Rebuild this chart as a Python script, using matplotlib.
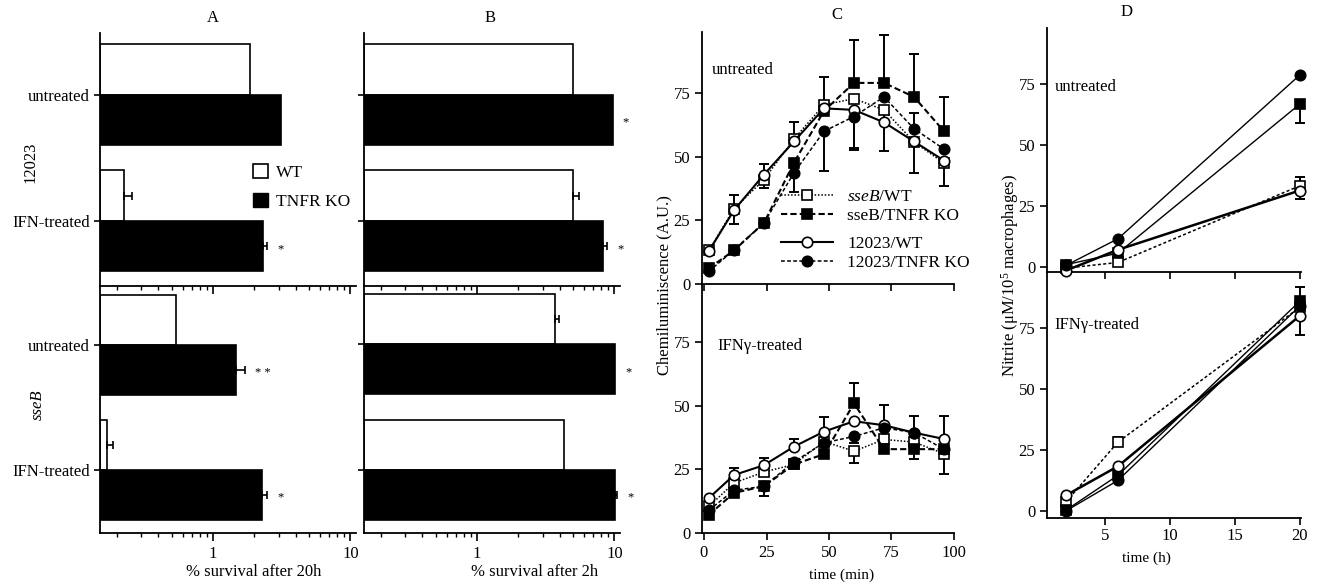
import numpy as np
import matplotlib
matplotlib.use("Agg")
import matplotlib.pyplot as plt
from matplotlib.patches import Patch
from matplotlib.lines import Line2D
from matplotlib.ticker import NullFormatter

plt.rcParams['font.family'] = ['Liberation Serif', 'DejaVu Serif']
plt.rcParams['mathtext.fontset'] = 'custom'
plt.rcParams['mathtext.rm'] = 'Liberation Serif'
plt.rcParams['mathtext.it'] = 'Liberation Serif:italic'
plt.rcParams['font.size'] = 12
plt.rcParams['axes.linewidth'] = 1.3

nan = np.nan

# ---- A / B: % survival, rows = untreated, IFN-treated ----
conditions = ["untreated", "IFN-treated"]

a_12023_wt = [1.86, 0.224]
a_12023_ko = [3.1, 2.3]
a_12023_wt_err = [nan, 0.256]
a_12023_ko_err = [nan, 2.48]
a_12023_stars = ["", "*"]
a_sseb_wt = [0.54, 0.17]
a_sseb_ko = [1.47, 2.28]
a_sseb_wt_err = [nan, 0.187]
a_sseb_ko_err = [1.71, 2.48]
a_sseb_stars = ["* *", "*"]

b_12023_wt = [5.0, 5.0]
b_12023_ko = [9.8, 8.3]
b_12023_wt_err = [nan, 5.55]
b_12023_ko_err = [nan, 8.9]
b_12023_stars = ["*", "*"]
b_sseb_wt = [3.7, 4.3]
b_sseb_ko = [10.2, 10.2]
b_sseb_wt_err = [3.97, nan]
b_sseb_ko_err = [nan, 10.5]
b_sseb_stars = ["*", "*"]

# ---- C: chemiluminescence (A.U.) ----
c_time = [2, 12, 24, 36, 48, 60, 72, 84, 96]
c_unt_sseb_wt = [13.2, 29.6, 41, 57, 70.4, 72.8, 68.4, 55.8, 47.5]
c_unt_sseb_ko = [6.2, 13.2, 24, 47.7, 68, 79, 79, 73.5, 60]
c_unt_wt = [13, 29, 43, 56, 69, 68.4, 63.5, 56, 48.5]
c_unt_ko = [5, 13.4, 24, 43.7, 60, 65.8, 73.5, 61, 53]
c_unt_sseb_wt_up = [0, 5.4, 6, 6.8, 11, 0, 0, 0, 0]
c_unt_sseb_wt_dn = [0, 0, 3.4, 0, 0, 0, 16, 12, 9]
c_unt_sseb_ko_up = [0, 0, 0, 0, 0, 16.8, 19, 17, 13.6]
c_unt_sseb_ko_dn = [0, 0, 0, 11.7, 0, 0, 0, 0, 0]
c_unt_wt_up = [0, 0, 0, 0, 0, 0, 0, 0, 0]
c_unt_wt_dn = [0, 5.5, 0, 0, 0, 15, 0, 0, 0]
c_unt_ko_up = [0, 0, 0, 0, 0, 0, 0, 6, 0]
c_unt_ko_dn = [0, 0, 0, 0, 15.5, 13.3, 0, 0, 0]

c_ifn_sseb_wt = [10.5, 19.7, 24, 27, 36, 32.2, 36.8, 35.8, 31.2]
c_ifn_sseb_ko = [7.2, 15.8, 18.4, 27, 31, 51, 33, 33, 33]
c_ifn_wt = [13.8, 22.8, 26.7, 34, 39.9, 44, 42.4, 39.5, 37]
c_ifn_ko = [9, 16.8, 18.4, 28, 35.5, 38, 41.4, 39.5, 33]
c_ifn_sseb_wt_up = [0, 0, 0, 0, 0, 0, 0, 0, 0]
c_ifn_sseb_wt_dn = [0, 0, 0, 0, 0, 4.6, 0, 0, 8]
c_ifn_sseb_ko_up = [0, 0, 0, 0, 0, 8, 0, 0, 0]
c_ifn_sseb_ko_dn = [0, 0, 0, 0, 0, 0, 1.7, 3.8, 0]
c_ifn_wt_up = [0, 2.9, 2.9, 2.8, 5.9, 0, 8, 6.5, 9]
c_ifn_wt_dn = [0, 0, 0, 0, 0, 0, 0, 0, 0]
c_ifn_ko_up = [0, 0, 0, 0, 0, 0, 0, 0, 0]
c_ifn_ko_dn = [0, 0, 3.7, 0, 0, 2.7, 0, 0, 0]

# ---- D: nitrite (uM / 1e5 macrophages) ----
d_time = [2, 6, 20]
d_unt_sseb_wt = [-0.4, 1.9, 33.3]
d_unt_sseb_ko = [1, 5.7, 66.8]
d_unt_wt = [-1.4, 7.1, 31.4]
d_unt_ko = [0.7, 11.6, 78.7]
d_unt_sseb_wt_up = [0, 0, 3.7]
d_unt_sseb_ko_dn = [0, 0, 7.8]
d_unt_wt_dn = [0, 0, 3.4]

d_ifn_sseb_wt = [3.7, 28.2, 83.5]
d_ifn_sseb_ko = [0.3, 14.6, 86]
d_ifn_wt = [6.4, 18.3, 80]
d_ifn_ko = [0, 12.5, 84]
d_ifn_sseb_wt_up = [0, 2.1, 0]
d_ifn_sseb_ko_up = [0, 0, 5.7]
d_ifn_wt_dn = [0, 0, 7.7]

XMIN, XMAX = 0.15, 11
W, H = 1322, 585
fig = plt.figure(figsize=(W / 100, H / 100), dpi=100)


def fax(left, top, right, bottom):
    return fig.add_axes([left / W, 1 - bottom / H, (right - left) / W, (bottom - top) / H])


def draw_bars(ax, wt, ko, wt_err, ko_err, stars, ylim, show_labels, show_xlabels):
    pos = np.arange(len(conditions))
    h = 0.4
    wt = np.asarray(wt)
    ko = np.asarray(ko)
    ax.barh(pos - h / 2, wt - XMIN, height=h, left=XMIN, color='white',
            edgecolor='black', linewidth=1.2)
    ax.barh(pos + h / 2, ko - XMIN, height=h, left=XMIN, color='black',
            edgecolor='black', linewidth=1.2)
    for vals, errs, ys in ((wt, wt_err, pos - h / 2), (ko, ko_err, pos + h / 2)):
        errs = np.asarray(errs)
        m = ~np.isnan(errs)
        if m.any():
            ax.errorbar(vals[m], ys[m], xerr=[np.zeros(m.sum()), errs[m] - vals[m]],
                        fmt='none', ecolor='black', elinewidth=1.2, capsize=3, capthick=1.2)
    for i, s in enumerate(stars):
        if s:
            e = ko_err[i]
            x = ko[i] if np.isnan(e) else max(ko[i], e)
            ax.annotate(s, xy=(x, pos[i] + h / 2), xytext=(7, -2), textcoords='offset points',
                        va='center', ha='left', fontsize=9)
    ax.set_xscale('log')
    ax.set_xlim(XMIN, XMAX)
    ax.set_ylim(*ylim)
    ax.set_yticks(pos)
    if show_labels:
        ax.set_yticklabels(conditions)
    else:
        ax.set_yticklabels([])
    ax.set_xticks([1, 10])
    ax.xaxis.set_minor_formatter(NullFormatter())
    if show_xlabels:
        ax.set_xticklabels(["1", "10"])
    else:
        ax.set_xticklabels([])
    ax.spines['top'].set_visible(False)
    ax.spines['right'].set_visible(False)
    ax.tick_params(axis='x', which='major', length=6, width=1.2, direction='out')
    ax.tick_params(axis='x', which='minor', length=3, width=1, direction='out')
    ax.tick_params(axis='y', length=4, width=1.2, labelsize=12)
    ax.patch.set_alpha(0)


top_ylim = (1.516, -0.49)
bot_ylim = (1.504, -0.472)

axA1 = fax(100, 33, 356, 286)
draw_bars(axA1, a_12023_wt, a_12023_ko, a_12023_wt_err, a_12023_ko_err, a_12023_stars, top_ylim, True, False)
axA2 = fax(100, 286, 356, 533)
draw_bars(axA2, a_sseb_wt, a_sseb_ko, a_sseb_wt_err, a_sseb_ko_err, a_sseb_stars, bot_ylim, True, True)
axB1 = fax(364, 33, 620, 286)
draw_bars(axB1, b_12023_wt, b_12023_ko, b_12023_wt_err, b_12023_ko_err, b_12023_stars, top_ylim, False, False)
axB2 = fax(364, 285, 620, 533)
draw_bars(axB2, b_sseb_wt, b_sseb_ko, b_sseb_wt_err, b_sseb_ko_err, b_sseb_stars, bot_ylim, False, True)
axA1.set_zorder(3)
axB1.set_zorder(3)

fig.legend(handles=[Patch(facecolor='white', edgecolor='black', linewidth=1.2),
                    Patch(facecolor='black', edgecolor='black')],
           labels=["WT", "TNFR KO"], loc='upper left', bbox_to_anchor=(253 / W, 1 - 164 / H),
           frameon=False, borderpad=0, borderaxespad=0, handlelength=0.85, handleheight=0.85,
           handletextpad=0.45, labelspacing=0.7, fontsize=12.5)

# line-plot series styles
styles = {
    'sseb_wt': dict(marker='s', mfc='white', ls=(0, (1, 1.2)), lw=1.1),
    'sseb_ko': dict(marker='s', mfc='black', ls=(0, (3, 1.5)), lw=1.5),
    'wt': dict(marker='o', mfc='white', ls='-', lw=1.5),
    'ko': dict(marker='o', mfc='black', ls=(0, (2.5, 1.5)), lw=1.1),
}


def plot_series(ax, t, y, up, dn, st):
    t = np.asarray(t, float)
    y = np.asarray(y, float)
    ax.plot(t, y, color='black', mec='black', ms=7.5, mew=1.2, clip_on=False, zorder=3, **st)
    up = np.asarray(up, float)
    dn = np.asarray(dn, float)
    m = up > 0
    if m.any():
        ax.errorbar(t[m], y[m], yerr=[np.zeros(m.sum()), up[m]], fmt='none', ecolor='black',
                    elinewidth=1.4, capsize=3.5, capthick=1.4, zorder=2, clip_on=False)
    m = dn > 0
    if m.any():
        ax.errorbar(t[m], y[m], yerr=[dn[m], np.zeros(m.sum())], fmt='none', ecolor='black',
                    elinewidth=1.4, capsize=3.5, capthick=1.4, zorder=2, clip_on=False)


def style_line_ax(ax, xlim, ylim, xticks, yticks, xlabels):
    ax.set_xlim(*xlim)
    ax.set_ylim(*ylim)
    ax.set_xticks(xticks)
    ax.set_yticks(yticks)
    if not xlabels:
        ax.set_xticklabels([])
    ax.spines['top'].set_visible(False)
    ax.spines['right'].set_visible(False)
    ax.tick_params(length=5, width=1.2, labelsize=12)
    ax.patch.set_alpha(0)


axC1 = fax(702, 32, 954, 284)
plot_series(axC1, c_time, c_unt_sseb_wt, c_unt_sseb_wt_up, c_unt_sseb_wt_dn, styles['sseb_wt'])
plot_series(axC1, c_time, c_unt_sseb_ko, c_unt_sseb_ko_up, c_unt_sseb_ko_dn, styles['sseb_ko'])
plot_series(axC1, c_time, c_unt_wt, c_unt_wt_up, c_unt_wt_dn, styles['wt'])
plot_series(axC1, c_time, c_unt_ko, c_unt_ko_up, c_unt_ko_dn, styles['ko'])
style_line_ax(axC1, (-0.8, 100), (0, 99), [0, 25, 50, 75, 100], [0, 25, 50, 75], False)
axC1.text(0.04, 0.85, "untreated", transform=axC1.transAxes, fontsize=12, va='center')

axC2 = fax(702, 284, 954, 533)
plot_series(axC2, c_time, c_ifn_sseb_wt, c_ifn_sseb_wt_up, c_ifn_sseb_wt_dn, styles['sseb_wt'])
plot_series(axC2, c_time, c_ifn_sseb_ko, c_ifn_sseb_ko_up, c_ifn_sseb_ko_dn, styles['sseb_ko'])
plot_series(axC2, c_time, c_ifn_wt, c_ifn_wt_up, c_ifn_wt_dn, styles['wt'])
plot_series(axC2, c_time, c_ifn_ko, c_ifn_ko_up, c_ifn_ko_dn, styles['ko'])
style_line_ax(axC2, (-0.8, 100), (0, 98), [0, 25, 50, 75, 100], [0, 25, 50, 75], True)
axC2.text(0.06, 0.75, "IFNγ-treated", transform=axC2.transAxes, fontsize=12, va='center')
axC1.set_zorder(3)


def handle(st):
    return Line2D([], [], color='black', mec='black', ms=7.5, mew=1.2, **st)


leg_kw = dict(loc='upper left', frameon=False, borderpad=0, borderaxespad=0, handlelength=3.0,
              handletextpad=0.8, labelspacing=0.15, fontsize=12.5)
fig.legend(handles=[handle(styles['sseb_wt']), handle(styles['sseb_ko'])],
           labels=["$\\it{sseB}$/WT", "sseB/TNFR KO"], bbox_to_anchor=(781 / W, 1 - 189 / H), **leg_kw)
fig.legend(handles=[handle(styles['wt']), handle(styles['ko'])],
           labels=["12023/WT", "12023/TNFR KO"], bbox_to_anchor=(781 / W, 1 - 236 / H), **leg_kw)

d_styles = {
    'sseb_wt': dict(marker='s', mfc='white', ls=(0, (2, 1.5)), lw=1.1),
    'sseb_ko': dict(marker='s', mfc='black', ls='-', lw=1.0),
    'wt': dict(marker='o', mfc='white', ls='-', lw=1.8),
    'ko': dict(marker='o', mfc='black', ls='-', lw=1.0),
}
z3 = [0, 0, 0]
axD1 = fax(1047, 28, 1301, 272)
plot_series(axD1, d_time, d_unt_sseb_wt, d_unt_sseb_wt_up, z3, d_styles['sseb_wt'])
plot_series(axD1, d_time, d_unt_sseb_ko, z3, d_unt_sseb_ko_dn, d_styles['sseb_ko'])
plot_series(axD1, d_time, d_unt_wt, z3, d_unt_wt_dn, d_styles['wt'])
plot_series(axD1, d_time, d_unt_ko, z3, z3, d_styles['ko'])
style_line_ax(axD1, (0.54, 20.1), (-2, 98), [5, 10, 15, 20], [0, 25, 50, 75], False)
axD1.text(0.03, 0.76, "untreated", transform=axD1.transAxes, fontsize=12, va='center')

axD2 = fax(1047, 272, 1301, 518)
plot_series(axD2, d_time, d_ifn_sseb_wt, d_ifn_sseb_wt_up, z3, d_styles['sseb_wt'])
plot_series(axD2, d_time, d_ifn_sseb_ko, d_ifn_sseb_ko_up, z3, d_styles['sseb_ko'])
plot_series(axD2, d_time, d_ifn_wt, z3, d_ifn_wt_dn, d_styles['wt'])
plot_series(axD2, d_time, d_ifn_ko, z3, z3, d_styles['ko'])
style_line_ax(axD2, (0.54, 20.1), (-2.9, 98), [5, 10, 15, 20], [0, 25, 50, 75], True)
axD2.tick_params(axis='x', pad=2)
axD2.text(0.03, 0.785, "IFNγ-treated", transform=axD2.transAxes, fontsize=12, va='center')
axD1.set_zorder(3)

# titles and axis labels
for x, y, s in ((213, 18, "A"), (490, 18, "B"), (837, 15, "C"), (1127, 12, "D")):
    fig.text(x / W, 1 - y / H, s, ha='center', va='center', fontsize=12)
fig.text(254 / W, 1 - 572 / H, "% survival after 20h", ha='center', va='center', fontsize=12)
fig.text(535 / W, 1 - 572 / H, "% survival after 2h", ha='center', va='center', fontsize=12)
fig.text(842 / W, 1 - 575 / H, "time (min)", ha='center', va='center', fontsize=11)
fig.text(1146 / W, 1 - 558 / H, "time (h)", ha='center', va='center', fontsize=11)
fig.text(664 / W, 1 - 285 / H, "Chemiluminiscence (A.U.)", rotation=90, ha='center', va='center', fontsize=12)
fig.text(1010 / W, 1 - 275 / H, "Nitrite (μM/10$^5$ macrophages)", rotation=90, ha='center', va='center', fontsize=12)
fig.text(30 / W, 1 - 162 / H, "12023", rotation=90, ha='center', va='center', fontsize=12)
fig.text(38 / W, 1 - 405 / H, "sseB", rotation=90, ha='center', va='center', fontsize=12, style='italic')

fig.savefig("out.png", dpi=100)
